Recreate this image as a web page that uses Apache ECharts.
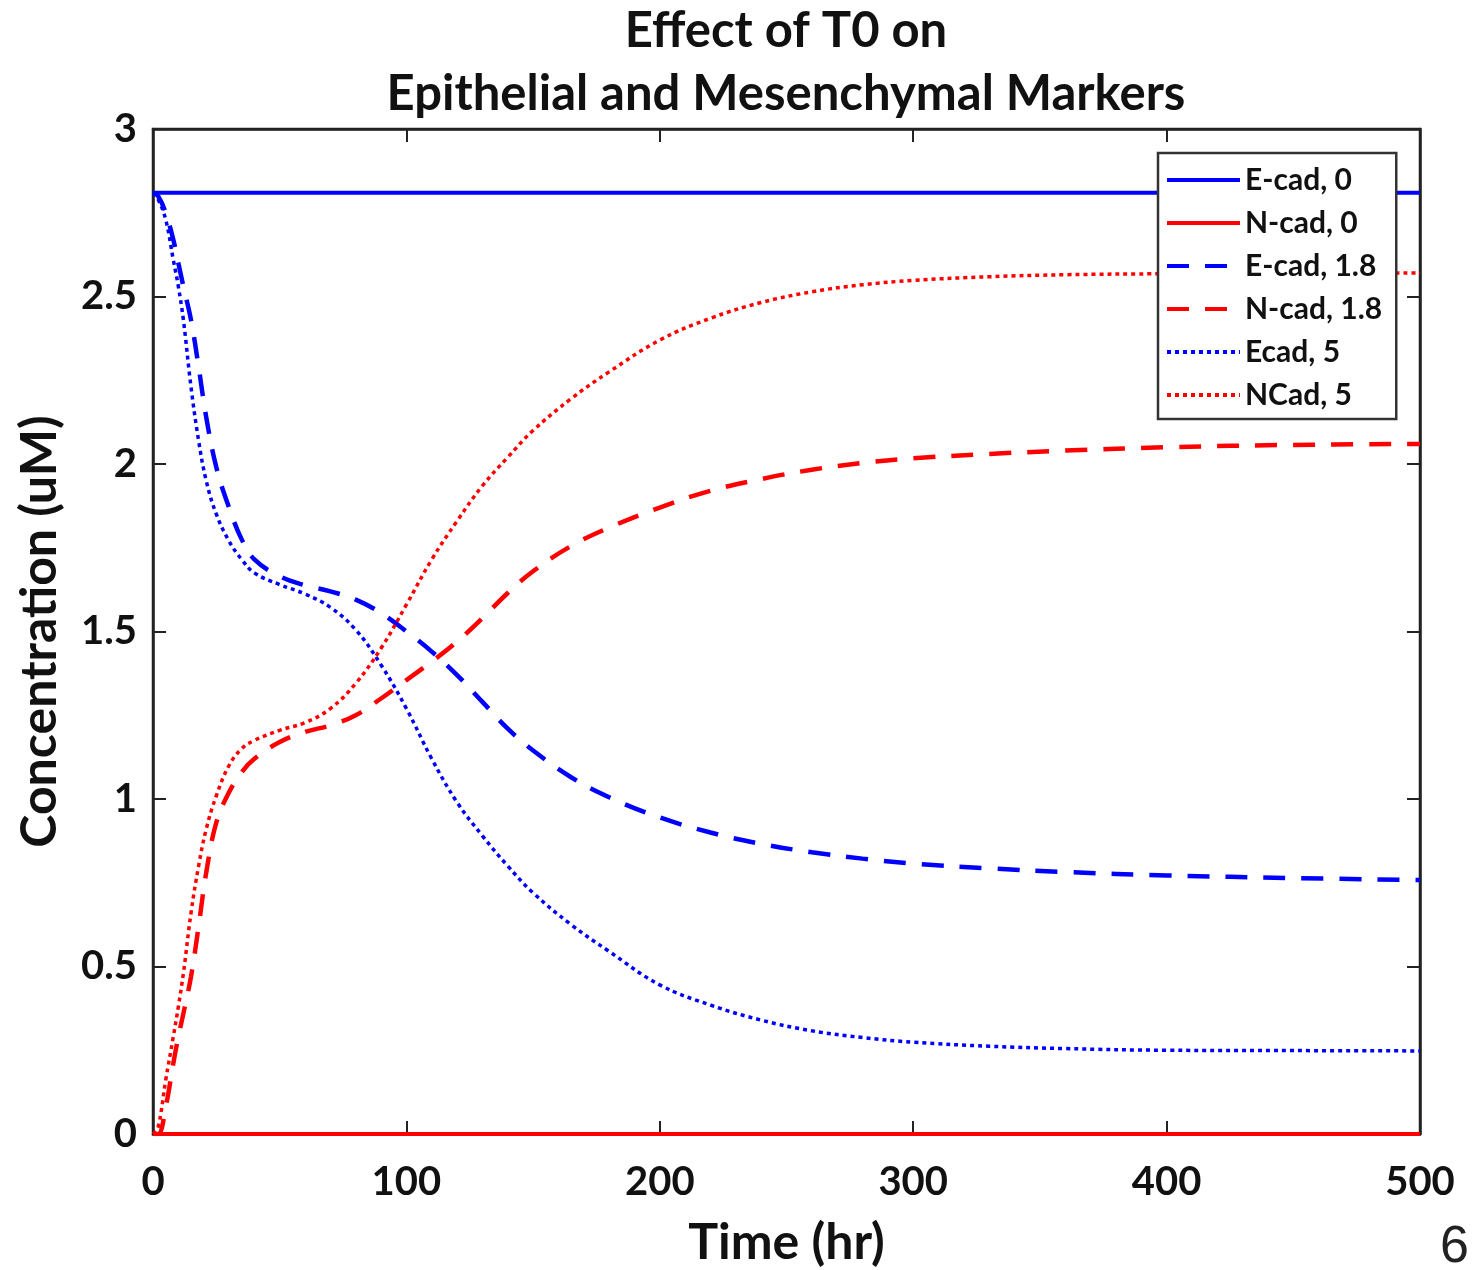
<!DOCTYPE html>
<html>
<head>
<meta charset="utf-8">
<title>Effect of T0 on Epithelial and Mesenchymal Markers</title>
<script src="https://cdn.jsdelivr.net/npm/echarts@6/dist/echarts.min.js"></script>
<style>
  html, body { margin: 0; padding: 0; background: #fff; }
  #chart { width: 1484px; height: 1270px; }
</style>
</head>
<body>
<div id="chart"></div>
<script>
// Time points (hr) for the sampled curves
var timeHr = [0, 2, 5, 8, 10, 12, 15, 18, 21, 25, 30, 35, 40, 50, 60, 70, 80, 90, 100,
  110, 120, 130, 140, 150, 165, 180, 200, 220, 240, 260, 280, 300, 330, 360, 400, 450, 500];

// T0 = 0 : flat lines
var flatTime = [0, 500];
var ecad0 = [2.81, 2.81];
var ncad0 = [0, 0];

// T0 = 1.8
var ecad18 = [2.81, 2.80, 2.75, 2.67, 2.60, 2.53, 2.43, 2.29, 2.14, 1.99, 1.87, 1.775, 1.715,
  1.665, 1.638, 1.62, 1.595, 1.555, 1.50, 1.44, 1.37, 1.29, 1.21, 1.145, 1.065, 1.005,
  0.945, 0.90, 0.866, 0.841, 0.822, 0.807, 0.793, 0.782, 0.772, 0.764, 0.758];
var ncad18 = [0, 0, 0.08, 0.21, 0.29, 0.36, 0.47, 0.62, 0.78, 0.93, 1.02, 1.08, 1.12,
  1.17, 1.20, 1.22, 1.25, 1.30, 1.355, 1.41, 1.47, 1.54, 1.615, 1.68, 1.755, 1.81,
  1.87, 1.92, 1.955, 1.983, 2.003, 2.017, 2.03, 2.04, 2.05, 2.057, 2.06];

// T0 = 5
var ecad5 = [2.81, 2.79, 2.73, 2.61, 2.53, 2.43, 2.23, 2.07, 1.95, 1.85, 1.77, 1.715, 1.675,
  1.64, 1.612, 1.572, 1.505, 1.40, 1.27, 1.12, 0.99, 0.89, 0.80, 0.72, 0.625, 0.545,
  0.445, 0.385, 0.34, 0.308, 0.288, 0.274, 0.262, 0.255, 0.25, 0.249, 0.248];
var ncad5 = [0, 0.02, 0.16, 0.29, 0.38, 0.48, 0.66, 0.80, 0.91, 1.01, 1.10, 1.15, 1.175,
  1.205, 1.228, 1.27, 1.345, 1.45, 1.58, 1.715, 1.83, 1.935, 2.02, 2.10, 2.195, 2.275,
  2.37, 2.435, 2.482, 2.514, 2.535, 2.548, 2.559, 2.565, 2.568, 2.57, 2.57];

var seriesNames = ['E-cad, 0', 'N-cad, 0', 'E-cad, 1.8', 'N-cad, 1.8', 'Ecad, 5', 'NCad, 5'];

function pairs(xs, ys) {
  var out = [];
  for (var i = 0; i < xs.length; i++) out.push([xs[i], ys[i]]);
  return out;
}

var FONT = 'Lato, "Open Sans", sans-serif';
var BLUE = '#0000ff';
var RED = '#ff0000';

function lineSeries(name, data, color, width, type) {
  return {
    name: name,
    type: 'line',
    data: data,
    showSymbol: false,
    symbol: 'none',
    smooth: 0.4,
    lineStyle: {color: color, width: width, type: type},
    itemStyle: {color: color},
    xAxisIndex: 0,
    yAxisIndex: 0
  };
}

var tickStyle = {show: true, inside: true, length: 13, lineStyle: {color: '#222', width: 2}};

var chart = echarts.init(document.getElementById('chart'));

chart.setOption({
  backgroundColor: '#fff',
  animation: false,
  title: {
    text: 'Effect of T0 on\nEpithelial and Mesenchymal Markers',
    left: 786,
    top: 0,
    padding: 0,
    textAlign: 'center',
    textStyle: {fontFamily: FONT, fontWeight: 'bold', fontSize: 49, lineHeight: 63, color: '#111'}
  },
  graphic: [{
    type: 'text',
    left: 1440,
    top: 1222,
    style: {text: '6', fontFamily: '"Liberation Sans", Arial, sans-serif', fontSize: 52, fill: '#222'}
  }],
  legend: {
    data: seriesNames,
    orient: 'vertical',
    left: 1158,
    top: 153,
    padding: [12, 14, 9, 7],
    itemWidth: 73,
    itemHeight: 20,
    itemGap: 13,
    backgroundColor: '#fff',
    borderColor: '#333',
    borderWidth: 2.5,
    itemStyle: {opacity: 0, borderWidth: 0},
    lineStyle: {width: 4},
    textStyle: {fontFamily: FONT, fontWeight: 'bold', fontSize: 30, color: '#111'}
  },
  grid: {
    left: 153,
    right: 64,
    top: 129,
    bottom: 136,
    outerBoundsMode: 'none',
    show: true,
    borderColor: '#222',
    borderWidth: 2.5,
    backgroundColor: '#fff'
  },
  xAxis: [{
    type: 'value',
    min: 0,
    max: 500,
    interval: 100,
    name: 'Time (hr)',
    nameLocation: 'middle',
    nameGap: 84,
    nameTextStyle: {fontFamily: FONT, fontWeight: 'bold', fontSize: 50, color: '#111'},
    axisLine: {show: true, onZero: false, lineStyle: {color: '#222', width: 2.5}},
    axisTick: tickStyle,
    axisLabel: {fontFamily: FONT, fontWeight: 'bold', fontSize: 40, color: '#111', margin: 28},
    splitLine: {show: false}
  }, {
    type: 'value',
    position: 'top',
    min: 0,
    max: 500,
    interval: 100,
    axisLine: {show: true, onZero: false, lineStyle: {color: '#222', width: 2.5}},
    axisTick: tickStyle,
    axisLabel: {show: false},
    splitLine: {show: false}
  }],
  yAxis: [{
    type: 'value',
    min: 0,
    max: 3,
    interval: 0.5,
    name: 'Concentration (uM)',
    nameLocation: 'middle',
    nameGap: 88,
    nameTextStyle: {fontFamily: FONT, fontWeight: 'bold', fontSize: 50, color: '#111'},
    axisLine: {show: true, onZero: false, lineStyle: {color: '#222', width: 2.5}},
    axisTick: tickStyle,
    axisLabel: {fontFamily: FONT, fontWeight: 'bold', fontSize: 40, color: '#111', margin: 16},
    splitLine: {show: false}
  }, {
    type: 'value',
    position: 'right',
    min: 0,
    max: 3,
    interval: 0.5,
    axisLine: {show: true, onZero: false, lineStyle: {color: '#222', width: 2.5}},
    axisTick: tickStyle,
    axisLabel: {show: false},
    splitLine: {show: false}
  }],
  series: [
    lineSeries('E-cad, 0', pairs(flatTime, ecad0), BLUE, 4, 'solid'),
    lineSeries('N-cad, 0', pairs(flatTime, ncad0), RED, 4, 'solid'),
    lineSeries('E-cad, 1.8', pairs(timeHr, ecad18), BLUE, 4.5, [22, 16]),
    lineSeries('N-cad, 1.8', pairs(timeHr, ncad18), RED, 4.5, [22, 16]),
    lineSeries('Ecad, 5', pairs(timeHr, ecad5), BLUE, 3.5, [4, 4]),
    lineSeries('NCad, 5', pairs(timeHr, ncad5), RED, 3.5, [4, 4])
  ]
});

window.addEventListener('resize', function() {
  chart.resize();
});
</script>
</body>
</html>
